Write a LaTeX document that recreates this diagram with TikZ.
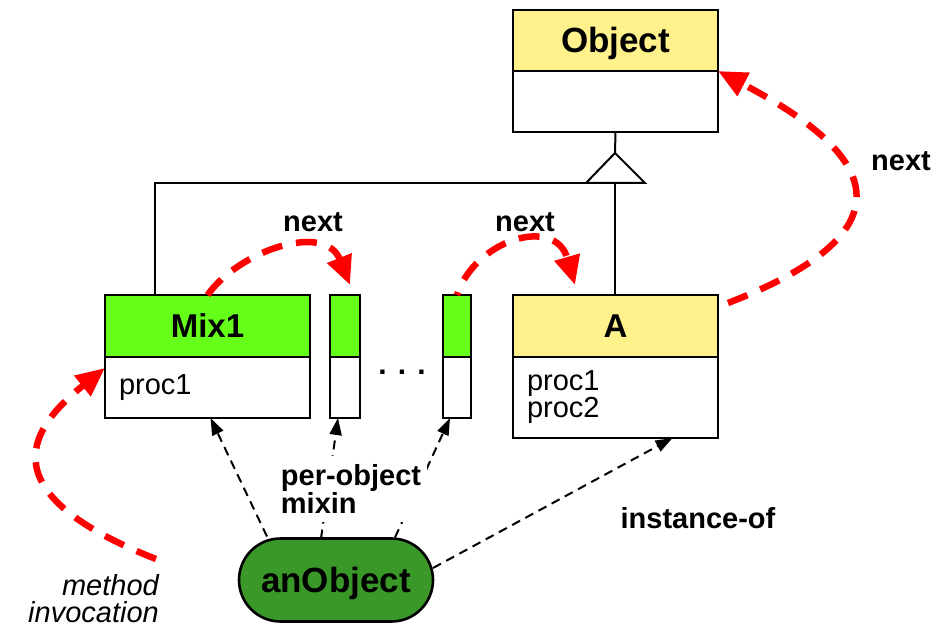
\documentclass[tikz,border=0pt]{standalone}
\usepackage{fontspec}
\setmainfont{Liberation Sans}
\usetikzlibrary{arrows.meta,shapes.misc,calc}
\definecolor{hdryellow}{RGB}{255,241,140}
\definecolor{hdrgreen}{RGB}{102,255,26}
\definecolor{objgreen}{RGB}{58,152,40}
\begin{document}
\begin{tikzpicture}[x=1pt,y=-1pt,
  hdr/.style={draw=black, line width=2.6pt, inner sep=0pt, outer sep=0pt, anchor=north west,
    text height=23.6pt, text depth=0pt,
    font=\bfseries\fontsize{33}{36}\selectfont},
  bodybox/.style={draw=black, line width=2.6pt, inner xsep=14pt, inner ysep=0pt, outer sep=0pt,
    anchor=north west, fill=white, align=left, font=\fontsize{29}{27}\selectfont},
  hier/.style={draw=black, line width=2pt},
  redarrow/.style={draw=red, line width=6.5pt, dash pattern=on 21pt off 14pt,
    -{Triangle[length=29pt,width=25pt,fill=red]}},
  instarrow/.style={draw=black, line width=2pt, dash pattern=on 9pt off 6pt,
    -{Triangle[length=17pt,width=12pt]}},
  lbl/.style={font=\bfseries\fontsize{29}{26}\selectfont, inner sep=2pt}
]
\useasboundingbox (0,0) rectangle (951,628);

% Object
\node[hdr, fill=hdryellow, minimum width=205pt, minimum height=61pt, text height=25pt, font=\bfseries\fontsize{35}{38}\selectfont] (objH) at (513,10) {Object};
\node[bodybox, minimum width=205pt, minimum height=61pt] (objB) at (513,71) {};

% Mix1
\node[hdr, fill=hdrgreen, minimum width=205pt, minimum height=62pt] (mixH) at (105,295) {Mix1};
\node[bodybox, minimum width=205pt, minimum height=61pt, text width=177pt] (mixB) at (105,357) {proc1};

% small mixins
\node[hdr, fill=hdrgreen, minimum width=30pt, minimum height=62pt] (s1H) at (330,295) {};
\node[bodybox, minimum width=30pt, minimum height=61pt, inner xsep=0pt] (s1B) at (330,357) {};
\node[hdr, fill=hdrgreen, minimum width=28pt, minimum height=62pt] (s2H) at (443,295) {};
\node[bodybox, minimum width=28pt, minimum height=61pt, inner xsep=0pt] (s2B) at (443,357) {};
\node[font=\bfseries\fontsize{30}{30}\selectfont, inner sep=0pt] (dots) at (402,372) {. . .};

% A
\node[hdr, fill=hdryellow, minimum width=205pt, minimum height=62pt] (aH) at (513,295) {A};
\node[bodybox, minimum width=205pt, minimum height=81pt, text width=177pt] (aB) at (513,357) {\raisebox{-2pt}{proc1}\\\raisebox{-2pt}{proc2}};

% inheritance
\coordinate (triTop) at (615,153);
\coordinate (triL) at (586,183);
\coordinate (triR) at (645,183);
\coordinate (triM) at (615,183);
\coordinate (hleft) at (155,183);
\draw[hier] (objB.south) -- (triTop);
\draw[hier] (triTop) -- (triL) -- (triR) -- cycle;
\draw[hier] (triL) -- (hleft) -- (hleft |- mixH.north);
\draw[hier] (triM) -- (triM |- aH.north);

% anObject
\node[rounded rectangle, draw=black, line width=2.6pt, fill=objgreen, minimum width=194pt, minimum height=83pt,
  inner sep=0pt, outer sep=0pt, text height=25pt, text depth=0pt,
  font=\bfseries\fontsize{35}{38}\selectfont] (anobj) at (336,580) {anObject};

% instance / mixin arrows
\draw[instarrow] ($(anobj.north)+(-69,-2)$) -- ($(mixB.south)+(3,0)$);
\draw[instarrow] ($(anobj.north)+(-15,0)$) -- ($(s1B.south)+(-7,0)$);
\draw[instarrow] ($(anobj.north)+(59,-1)$) -- ($(s2B.south)+(-7,0)$);
\draw[instarrow] ($(anobj.east)+(0,-12)$) -- ($(aB.south)+(57,0)$);

\node[lbl, fill=white, align=left, inner xsep=6pt, inner ysep=8pt] (pom) at (351,489) {per-object\\mixin};
\node[lbl] (inst) at (698,518) {instance-of};

% red next / invocation arrows
\coordinate (mstart) at (156,559);
\draw[redarrow] (mstart) .. controls (-20,490) and (35,424) .. ($(mixB.north west)+(0,11)$);
\draw[redarrow] (mixH.north) .. controls (240,250) and (325,222) .. ($(s1H.north)+(5,-10)$);
\draw[redarrow, dash phase=18pt] (s2H.north) .. controls (475,240) and (555,215) .. ($(aH.north west)+(62,-10)$);
\draw[redarrow] ($(aH.north east)+(10,8)$) .. controls (955,215) and (830,130) .. (objB.north east);

\node[lbl] (n1) at (313,222) {next};
\node[lbl] (n2) at (525,222) {next};
\node[lbl] (n3) at (901,161) {next};
\node[font=\itshape\fontsize{29}{27}\selectfont, align=right, anchor=east, inner sep=0pt] (minv) at (159,599) {method\\invocation};
\end{tikzpicture}
\end{document}
